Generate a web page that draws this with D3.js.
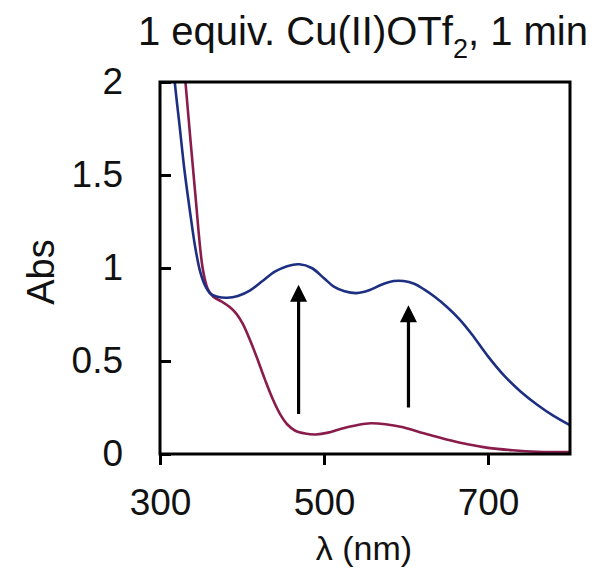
<!DOCTYPE html>
<html>
<head>
<meta charset="utf-8">
<script src="https://cdn.jsdelivr.net/npm/d3@7"></script>
<style>
  body { margin: 0; background: #fff; }
  text { font-family: "Liberation Sans", Arial, sans-serif; fill: #111; }
</style>
</head>
<body>
<div id="chart"></div>
<script>
////////////////////////////////////////////////////////////
//////////////////////// Data //////////////////////////////
////////////////////////////////////////////////////////////

// blue trace: after Cu(II)OTf2, 1 min
var blueWl  = [310, 318, 324, 330, 337, 343, 349, 355, 362, 370, 382, 395, 410, 425, 440, 455, 470, 485, 500, 512, 525, 540, 555, 570, 585, 597, 610, 622, 635, 650, 665, 680, 700, 720, 740, 760, 780, 800];
var blueAbs = [2.4, 2.0, 1.76, 1.52, 1.29, 1.11, 0.98, 0.905, 0.86, 0.845, 0.84, 0.85, 0.88, 0.93, 0.98, 1.01, 1.02, 1.00, 0.945, 0.90, 0.875, 0.865, 0.88, 0.91, 0.93, 0.93, 0.915, 0.885, 0.845, 0.79, 0.725, 0.645, 0.525, 0.42, 0.335, 0.265, 0.205, 0.155];

// red trace: starting spectrum
var redWl  = [325, 331, 343, 352, 358, 365, 375, 385, 393, 401, 410, 418, 428, 438, 447, 455, 465, 477, 490, 505, 520, 540, 557, 575, 595, 615, 635, 655, 675, 700, 730, 760, 800];
var redAbs = [2.3, 2.0, 1.40, 1.0, 0.89, 0.845, 0.82, 0.79, 0.755, 0.70, 0.61, 0.52, 0.40, 0.29, 0.21, 0.16, 0.125, 0.11, 0.105, 0.115, 0.135, 0.155, 0.165, 0.16, 0.145, 0.12, 0.095, 0.072, 0.052, 0.033, 0.02, 0.012, 0.01];

// arrows (wavelength, from abs, to abs)
var arrowWl   = [469, 603];
var arrowFrom = [0.215, 0.25];
var arrowTo   = [0.91, 0.80];

var xTicks = [300, 500, 700];
var yTicks = [0, 0.5, 1, 1.5, 2];

////////////////////////////////////////////////////////////
//////////////////////// Set-Up ////////////////////////////
////////////////////////////////////////////////////////////

var W = 598, H = 573;
var margin = {left: 160, top: 82, right: 28, bottom: 119};
var plotW = W - margin.left - margin.right,
    plotH = H - margin.top - margin.bottom;

var x = d3.scaleLinear().domain([300, 800]).range([0, plotW]);
var y = d3.scaleLinear().domain([0, 2]).range([plotH, 0]);

var svg = d3.select("#chart").append("svg")
  .attr("width", W)
  .attr("height", H);

var g = svg.append("g")
  .attr("transform", "translate(" + margin.left + "," + margin.top + ")");

g.append("defs").append("clipPath").attr("id", "plotClip")
  .append("rect").attr("width", plotW).attr("height", plotH);

////////////////////////////////////////////////////////////
//////////////////////// Curves ////////////////////////////
////////////////////////////////////////////////////////////

var line = d3.line()
  .x(function(d) { return x(d[0]); })
  .y(function(d) { return y(d[1]); })
  .curve(d3.curveCatmullRom.alpha(0.5));

var series = [
  {wl: redWl, abs: redAbs, color: "#8a1c4c"},
  {wl: blueWl, abs: blueAbs, color: "#1d2f82"}
];

series.forEach(function(s) {
  g.append("path")
    .datum(d3.zip(s.wl, s.abs))
    .attr("clip-path", "url(#plotClip)")
    .attr("fill", "none")
    .attr("stroke", s.color)
    .attr("stroke-width", 2.6)
    .attr("d", line);
});

////////////////////////////////////////////////////////////
//////////////////////// Arrows ////////////////////////////
////////////////////////////////////////////////////////////

var headLen = 17, headW = 17;
arrowWl.forEach(function(wl, i) {
  var ax = x(wl), y0 = y(arrowFrom[i]), y1 = y(arrowTo[i]);
  g.append("line")
    .attr("x1", ax).attr("x2", ax)
    .attr("y1", y0).attr("y2", y1 + headLen - 1)
    .attr("stroke", "#000")
    .attr("stroke-width", 3.2);
  g.append("path")
    .attr("d", "M" + ax + "," + y1 + "L" + (ax + headW / 2) + "," + (y1 + headLen) +
               "L" + (ax - headW / 2) + "," + (y1 + headLen) + "Z")
    .attr("fill", "#000");
});

////////////////////////////////////////////////////////////
//////////////////////// Axes //////////////////////////////
////////////////////////////////////////////////////////////

var xAxis = g.append("g")
  .attr("transform", "translate(0," + plotH + ")")
  .call(d3.axisBottom(x).tickValues(xTicks).tickSize(11).tickPadding(24));

var yAxis = g.append("g")
  .call(d3.axisLeft(y).tickValues(yTicks).tickSize(-11).tickPadding(37)
    .tickFormat(function(d) { return String(d); }));

[xAxis, yAxis].forEach(function(a) {
  a.select(".domain").remove();
  a.selectAll(".tick line").attr("stroke", "#000").attr("stroke-width", 3);
  a.selectAll(".tick text")
    .style("font-family", '"Liberation Sans", Arial, sans-serif')
    .style("font-size", "37px")
    .attr("fill", "#111");
});

// frame
g.append("rect")
  .attr("width", plotW)
  .attr("height", plotH)
  .attr("fill", "none")
  .attr("stroke", "#000")
  .attr("stroke-width", 3);

////////////////////////////////////////////////////////////
//////////////////////// Labels ////////////////////////////
////////////////////////////////////////////////////////////

var title = svg.append("text")
  .attr("x", 363)
  .attr("y", 45)
  .attr("text-anchor", "middle")
  .style("font-size", "40px");
title.append("tspan").text("1 equiv. Cu(II)OTf");
title.append("tspan").attr("dy", 13).style("font-size", "27px").text("2");
title.append("tspan").attr("dy", -13).text(", 1 min");

svg.append("text")
  .attr("x", 364)
  .attr("y", 560)
  .attr("text-anchor", "middle")
  .style("font-size", "34px")
  .text("λ (nm)");

svg.append("text")
  .attr("transform", "translate(54,272) rotate(-90)")
  .attr("text-anchor", "middle")
  .style("font-size", "38px")
  .text("Abs");
</script>
</body>
</html>
